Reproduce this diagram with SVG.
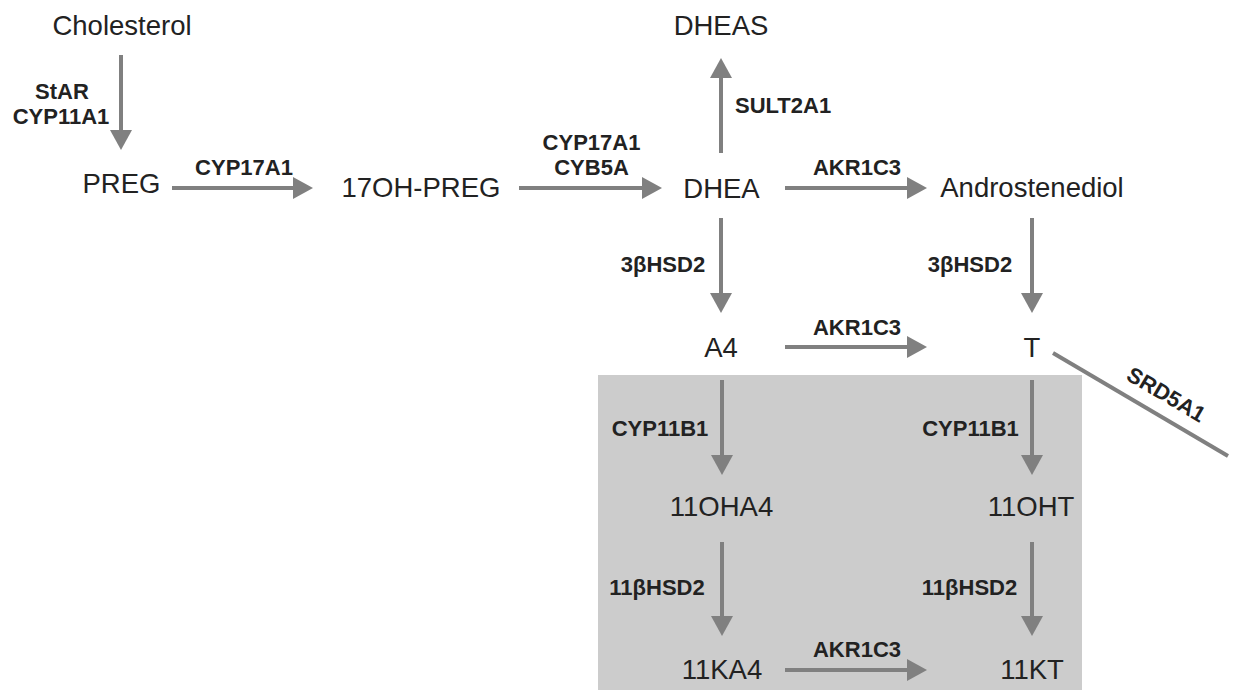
<svg xmlns="http://www.w3.org/2000/svg" width="1238" height="690" viewBox="0 0 1238 690">
<style>
.n{font-family:"Liberation Sans",Arial,sans-serif;font-size:27.5px;fill:#222;text-anchor:middle}
.e{font-family:"Liberation Sans",Arial,sans-serif;font-size:22px;font-weight:bold;fill:#222;text-anchor:middle}
.c{stroke:#808080;stroke-width:4;fill:none}
.a{marker-end:url(#ah)}
</style>
<defs>
<marker id="ah" markerUnits="userSpaceOnUse" markerWidth="22" markerHeight="22" refX="0" refY="11" orient="auto" viewBox="0 0 22 22">
<path d="M0,0 L20,11 L0,22 z" fill="#808080"/>
</marker>
</defs>
<rect id="box" x="598" y="375" width="484" height="315" fill="#cccccc"/>
<g id="connectors">
<line class="c a" x1="121" y1="55" x2="121" y2="130"/>
<line class="c a" x1="172" y1="188" x2="293" y2="188"/>
<line class="c a" x1="519" y1="188" x2="642" y2="188"/>
<line class="c a" x1="721" y1="153" x2="721" y2="78"/>
<line class="c a" x1="785" y1="188" x2="907" y2="188"/>
<line class="c a" x1="721" y1="218" x2="721" y2="293"/>
<line class="c a" x1="1032" y1="218" x2="1032" y2="293"/>
<line class="c a" x1="785" y1="347" x2="907" y2="347"/>
<line class="c" x1="1053" y1="353" x2="1228" y2="456"/>
<line class="c a" x1="722" y1="380" x2="722" y2="455"/>
<line class="c a" x1="722" y1="542" x2="722" y2="616"/>
<line class="c a" x1="1032" y1="380" x2="1032" y2="455"/>
<line class="c a" x1="1032" y1="542" x2="1032" y2="616"/>
<line class="c a" x1="785" y1="670" x2="907" y2="670"/>
<text class="e" x="62" y="99">StAR</text>
<text class="e" x="61" y="124">CYP11A1</text>
<text class="e" x="244" y="175">CYP17A1</text>
<text class="e" x="591.5" y="150">CYP17A1</text>
<text class="e" x="591.5" y="175">CYB5A</text>
<text class="e" x="735" y="113" style="text-anchor:start">SULT2A1</text>
<text class="e" x="857" y="175">AKR1C3</text>
<text class="e" x="663" y="272">3βHSD2</text>
<text class="e" x="970" y="272">3βHSD2</text>
<text class="e" x="857" y="335">AKR1C3</text>
<text class="e" x="1162.5" y="401" transform="rotate(30.5 1162.5 401)">SRD5A1</text>
<text class="e" x="660" y="436">CYP11B1</text>
<text class="e" x="970.5" y="436">CYP11B1</text>
<text class="e" x="657" y="595">11βHSD2</text>
<text class="e" x="969.5" y="595">11βHSD2</text>
<text class="e" x="857" y="657">AKR1C3</text>
</g>
<g id="cholesterol"><text class="n" x="122" y="35">Cholesterol</text></g>
<g id="dheas"><text class="n" x="721" y="35">DHEAS</text></g>
<g id="preg"><text class="n" x="121.5" y="193">PREG</text></g>
<g id="oh-preg"><text class="n" x="421" y="197">17OH-PREG</text></g>
<g id="dhea"><text class="n" x="721.5" y="198">DHEA</text></g>
<g id="androstenediol"><text class="n" x="1032" y="197">Androstenediol</text></g>
<g id="a4"><text class="n" x="721" y="357">A4</text></g>
<g id="t"><text class="n" x="1032" y="357">T</text></g>
<g id="ohA4"><text class="n" x="721.5" y="516">11OHA4</text></g>
<g id="oht"><text class="n" x="1031" y="516">11OHT</text></g>
<g id="ka4"><text class="n" x="722" y="679">11KA4</text></g>
<g id="kt"><text class="n" x="1032" y="679">11KT</text></g>
</svg>
